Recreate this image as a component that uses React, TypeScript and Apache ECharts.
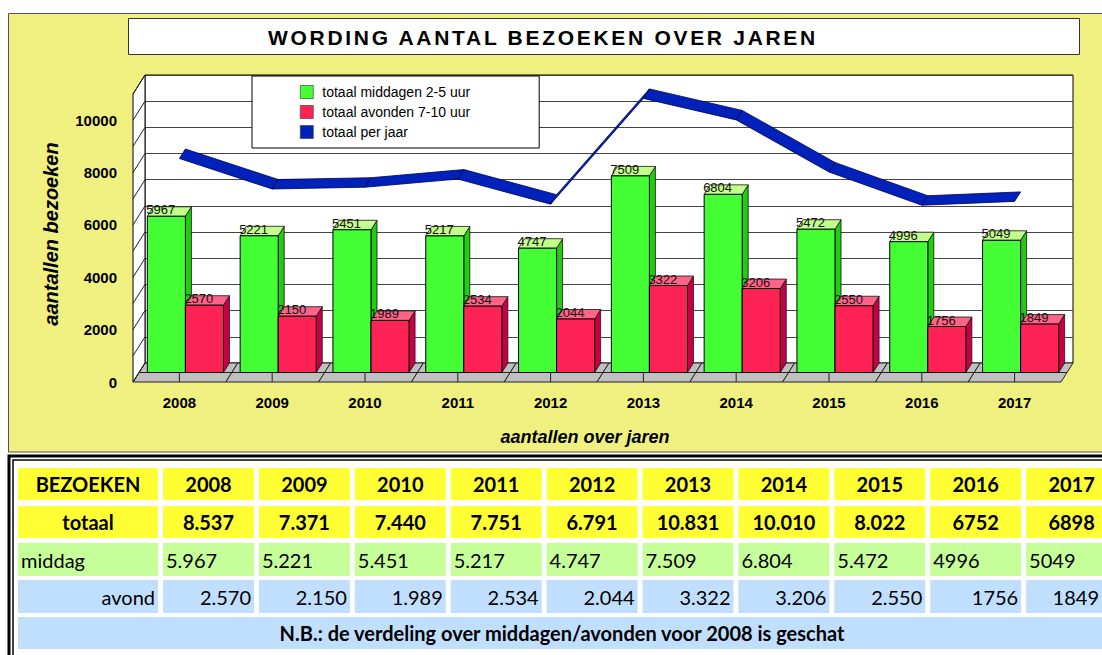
import React, { useEffect, useRef } from "react";
import * as echarts from "echarts";

// ---------- data ----------
const years = ["2008", "2009", "2010", "2011", "2012", "2013", "2014", "2015", "2016", "2017"];
const middagen = [5967, 5221, 5451, 5217, 4747, 7509, 6804, 5472, 4996, 5049];
const avonden = [2570, 2150, 1989, 2534, 2044, 3322, 3206, 2550, 1756, 1849];
const totalen = [8537, 7371, 7440, 7751, 6791, 10831, 10010, 8022, 6752, 6898];
const wallTicks = [0, 1000, 2000, 3000, 4000, 5000, 6000, 7000, 8000, 9000, 10000, 11000];
const seriesNames = ["totaal middagen 2-5 uur", "totaal avonden 7-10 uur", "totaal per jaar"];
const chartTitle = "WORDING AANTAL BEZOEKEN OVER JAREN";
const yAxisTitle = "aantallen bezoeken";
const xAxisTitle = "aantallen over jaren";
const tableCorner = "BEZOEKEN";
const tableRowLabels = ["totaal", "middag", "avond"];
const tableNote = "N.B.: de verdeling over middagen/avonden voor 2008 is geschat";
const firstYearWithoutSeparator = 2016;

// ---------- style / layout ----------
const FONT = "'Liberation Sans', Arial, sans-serif";
const TFONT = "Lato, 'Open Sans', sans-serif";
const GREEN = { front: "#44FF33", side: "#22CC11", top: "#C4FF8C" };
const RED = { front: "#FF2255", side: "#C80046", top: "#FF6488" };
const BLUE = "#0022BB";
const DX = 6;
const DY = -9.5;
const PAGE_RIGHT = 1099;

const fmt = (v: number, i: number) =>
  Number(years[i]) >= firstYearWithoutSeparator ? String(v) : String(v).replace(/\B(?=(\d{3})+(?!\d))/g, ".");

function box(x0: number, yTop: number, w: number, yBase: number, c: any) {
  return [
    {
      type: "polygon",
      shape: { points: [[x0 + w, yTop], [x0 + w + DX, yTop + DY], [x0 + w + DX, yBase + DY], [x0 + w, yBase]] },
      style: { fill: c.side, stroke: "#111", lineWidth: 0.8 },
    },
    {
      type: "polygon",
      shape: { points: [[x0, yTop], [x0 + DX, yTop + DY], [x0 + w + DX, yTop + DY], [x0 + w, yTop]] },
      style: { fill: c.top, stroke: "#111", lineWidth: 0.8 },
    },
    {
      type: "rect",
      shape: { x: x0, y: yTop, width: w, height: yBase - yTop },
      style: { fill: c.front, stroke: "#000", lineWidth: 1 },
    },
  ];
}

function barRender(values: number[], colors: any, left: boolean) {
  return (params: any, api: any) => {
    const i = api.value(0);
    const v = api.value(1);
    const top = api.coord([i, v]);
    const base = api.coord([i, 0]);
    const bw = api.size([1, 0])[0] * 0.41;
    const x0 = left ? top[0] - bw : top[0];
    return {
      type: "group",
      children: [
        ...box(x0, top[1], bw, base[1], colors),
        {
          type: "text",
          style: {
            text: String(values[i]),
            x: x0 - 1,
            y: top[1] - 6.5,
            textAlign: "left",
            textVerticalAlign: "middle",
            font: `13px ${FONT}`,
            fill: "#111",
          },
        },
      ],
    };
  };
}

function buildTable() {
  const els: any[] = [];
  const colX = (i: number) => 163 + i * 95.9;
  const colW = 91;
  const rows = [
    { y: 468, h: 32, fill: "#FFFF33", label: tableCorner, labels: years, align: "center", bold: true },
    { y: 506, h: 32, fill: "#FFFF33", label: tableRowLabels[0], labels: totalen.map(fmt), align: "center", bold: true },
    { y: 543, h: 33, fill: "#C6FF9A", label: tableRowLabels[1], labels: middagen.map(fmt), align: "left", bold: false },
    { y: 580, h: 33, fill: "#C0DFFF", label: tableRowLabels[2], labels: avonden.map(fmt), align: "right", bold: false },
  ];
  const tx = (x: number, w: number, align: string) =>
    align === "center" ? x + w / 2 : align === "left" ? x + 3 : Math.min(x + w - 3, PAGE_RIGHT);
  rows.forEach((r) => {
    const font = `${r.bold ? "bold " : ""}20px ${TFONT}`;
    els.push({ type: "rect", shape: { x: 18, y: r.y, width: 140, height: r.h }, style: { fill: r.fill } });
    els.push({
      type: "text",
      style: { text: r.label, x: tx(18, 140, r.align), y: r.y + r.h / 2, textAlign: r.align, textVerticalAlign: "middle", font, fill: "#000" },
    });
    r.labels.forEach((t, i) => {
      els.push({ type: "rect", shape: { x: colX(i), y: r.y, width: colW, height: r.h }, style: { fill: r.fill } });
      els.push({
        type: "text",
        style: { text: t, x: tx(colX(i), colW, r.align), y: r.y + r.h / 2, textAlign: r.align, textVerticalAlign: "middle", font, fill: "#000" },
      });
    });
  });
  els.push({ type: "rect", shape: { x: 18, y: 617, width: 1100, height: 32 }, style: { fill: "#C0DFFF" } });
  els.push({
    type: "text",
    style: { text: tableNote, x: 562, y: 633, textAlign: "center", textVerticalAlign: "middle", font: `bold 20px ${TFONT}`, fill: "#000" },
  });
  // double border
  els.push({ type: "polyline", shape: { points: [[9, 700], [9, 456], [1120, 456]] }, style: { stroke: "#000", lineWidth: 3, fill: null } });
  els.push({ type: "polyline", shape: { points: [[13, 700], [13, 460], [1120, 460]] }, style: { stroke: "#000", lineWidth: 1.5, fill: null } });
  return els;
}

export default function App() {
  const ref = useRef<HTMLDivElement>(null);
  useEffect(() => {
    if (!ref.current) return;
    const chart = echarts.init(ref.current, null, { renderer: "svg" });
    const catData = years.map((_, i) => [i, 0]);
    const option: any = {
      animation: false,
      backgroundColor: "#ffffff",
      legend: {
        left: 252,
        top: 76,
        orient: "vertical",
        padding: [9, 69, 9, 48],
        itemWidth: 13,
        itemHeight: 13,
        itemGap: 6,
        backgroundColor: "#fff",
        borderColor: "#000",
        borderWidth: 1,
        selectedMode: false,
        itemStyle: { borderColor: "#333", borderWidth: 0.6 },
        textStyle: { fontFamily: FONT, fontSize: 14, color: "#000", padding: [0, 0, 0, 4] },
        data: seriesNames.map((n) => ({ name: n, icon: "rect" })),
      },
      grid: [
        { left: 145, top: 75, width: 928, height: 288, show: true, backgroundColor: "#fff", borderColor: "#000", borderWidth: 1 },
        { left: 133, top: 94, width: 928, height: 288 },
        { left: 139, top: 84.5, width: 928, height: 288 },
      ],
      xAxis: [
        { type: "category", gridIndex: 0, data: years, show: false },
        {
          type: "category",
          gridIndex: 1,
          data: years,
          axisLine: { show: false },
          axisTick: { show: false },
          axisLabel: { interval: 0, margin: 13, fontFamily: FONT, fontWeight: "bold", fontSize: 15, color: "#000" },
        },
        { type: "category", gridIndex: 2, data: years, show: false },
      ],
      yAxis: [
        {
          type: "value",
          gridIndex: 0,
          min: 0,
          max: 11000,
          interval: 1000,
          axisLine: { show: false },
          axisTick: { show: false },
          axisLabel: { show: false },
          splitLine: { show: true, lineStyle: { color: "#444", width: 1 } },
        },
        {
          type: "value",
          gridIndex: 1,
          min: 0,
          max: 11000,
          interval: 1000,
          axisLine: { show: false },
          axisTick: { show: false },
          splitLine: { show: false },
          axisLabel: {
            margin: 16,
            fontFamily: FONT,
            fontWeight: "bold",
            fontSize: 15,
            color: "#000",
            formatter: (v: number) => (v % 2000 === 0 ? String(v) : ""),
          },
        },
        { type: "value", gridIndex: 2, min: 0, max: 11000, interval: 1000, show: false },
      ],
      series: [
        {
          type: "custom",
          name: "floor",
          xAxisIndex: 1,
          yAxisIndex: 1,
          clip: false,
          silent: true,
          z: 1,
          data: catData,
          renderItem: (params: any, api: any) => {
            const c = api.coord([api.value(0), 0]);
            const w = api.size([1, 0])[0];
            const xL = c[0] - w / 2;
            const xR = c[0] + w / 2;
            const y = c[1];
            return {
              type: "group",
              children: [
                {
                  type: "polygon",
                  shape: { points: [[xL, y], [xR, y], [xR + 2 * DX, y + 2 * DY], [xL + 2 * DX, y + 2 * DY]] },
                  style: { fill: "#C0C0C0", stroke: "#222", lineWidth: 1 },
                },
                { type: "line", shape: { x1: xL + DX, y1: y + DY, x2: xR + DX, y2: y + DY }, style: { stroke: "#222", lineWidth: 1 } },
                { type: "line", shape: { x1: c[0], y1: y, x2: c[0], y2: y + DY }, style: { stroke: "#222", lineWidth: 1 } },
              ],
            };
          },
        },
        {
          type: "custom",
          name: "sidewall",
          xAxisIndex: 0,
          yAxisIndex: 0,
          clip: false,
          silent: true,
          z: 1,
          data: wallTicks.map((v) => [0, v]),
          renderItem: (params: any, api: any) => {
            const cs = params.coordSys;
            const p = api.coord([0, api.value(1)]);
            const x = cs.x;
            const children: any[] = [];
            if (params.dataIndex === 0) {
              const yb = cs.y + cs.height;
              const yt = cs.y;
              children.push({
                type: "polygon",
                shape: { points: [[x + 2 * -DX, yb - 2 * DY], [x, yb], [x, yt], [x + 2 * -DX, yt - 2 * DY]] },
                style: { fill: "#fff", stroke: "#000", lineWidth: 1 },
              });
            }
            children.push({
              type: "line",
              shape: { x1: x, y1: p[1], x2: x - 2 * DX, y2: p[1] - 2 * DY },
              style: { stroke: "#222", lineWidth: 1 },
            });
            return { type: "group", children };
          },
        },
        {
          type: "custom",
          name: seriesNames[2],
          xAxisIndex: 2,
          yAxisIndex: 2,
          clip: false,
          z: 3,
          itemStyle: { color: BLUE },
          data: totalen.map((v, i) => [i, v]),
          renderItem: (params: any, api: any) => {
            const i = api.value(0);
            if (i >= totalen.length - 1) return null;
            const b0 = api.coord([i, totalen[i]]);
            const b1 = api.coord([i + 1, totalen[i + 1]]);
            return {
              type: "polygon",
              shape: { points: [b0, b1, [b1[0] - DX, b1[1] - DY], [b0[0] - DX, b0[1] - DY]] },
              style: { fill: BLUE, stroke: "#000050", lineWidth: 0.8 },
            };
          },
        },
        {
          type: "custom",
          name: seriesNames[0],
          xAxisIndex: 2,
          yAxisIndex: 2,
          clip: false,
          z: 4,
          itemStyle: { color: GREEN.front },
          data: middagen.map((v, i) => [i, v]),
          renderItem: barRender(middagen, GREEN, true),
        },
        {
          type: "custom",
          name: seriesNames[1],
          xAxisIndex: 2,
          yAxisIndex: 2,
          clip: false,
          z: 5,
          itemStyle: { color: RED.front },
          data: avonden.map((v, i) => [i, v]),
          renderItem: barRender(avonden, RED, false),
        },
      ],
      graphic: [
        {
          type: "rect",
          z: -10,
          shape: { x: 8.5, y: 13.5, width: 1100, height: 438.5 },
          style: { fill: "#F0F080", stroke: "#555", lineWidth: 1 },
        },
        {
          type: "rect",
          z: -5,
          shape: { x: 128.5, y: 18.5, width: 951, height: 36 },
          style: { fill: "#fff", stroke: "#333", lineWidth: 1 },
        },
        {
          type: "text",
          style: { text: chartTitle, x: 268, y: 37, textAlign: "left", textVerticalAlign: "middle", font: `bold 21px ${FONT}`, fill: "#000" },
        },
        {
          type: "text",
          x: 51,
          y: 234,
          rotation: Math.PI / 2,
          style: { text: yAxisTitle, x: 0, y: 0, textAlign: "center", textVerticalAlign: "middle", font: `italic bold 20px ${FONT}`, fill: "#000" },
        },
        {
          type: "text",
          style: { text: xAxisTitle, x: 585, y: 437, textAlign: "center", textVerticalAlign: "middle", font: `italic bold 18px ${FONT}`, fill: "#000" },
        },
        ...buildTable(),
      ],
    };
    chart.setOption(option);
    const apply = () => {
      ref.current?.querySelectorAll("text").forEach((t) => {
        if (t.textContent === chartTitle) t.setAttribute("letter-spacing", "2.7");
      });
    };
    apply();
    chart.on("finished", apply);
    const timer = setTimeout(apply, 50);
    return () => {
      clearTimeout(timer);
      chart.dispose();
    };
  }, []);
  return <div ref={ref} style={{ position: "fixed", left: 0, top: 0, width: 1102, height: 655 }} />;
}
